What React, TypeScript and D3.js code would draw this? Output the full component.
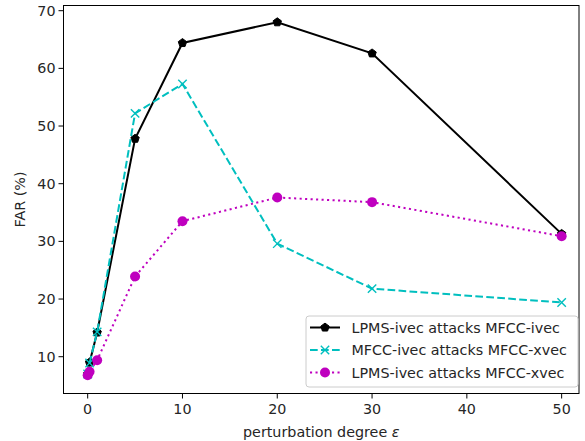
import React from "react";
import * as d3 from "d3";

const xValues = [0, 0.2, 1, 5, 10, 20, 30, 50];
const seriesNames = [
  "LPMS-ivec attacks MFCC-ivec",
  "MFCC-ivec attacks MFCC-xvec",
  "LPMS-ivec attacks MFCC-xvec",
];
const blackValues = [7.0, 9.0, 14.2, 47.8, 64.4, 68.0, 62.6, 31.3];
const cyanValues = [7.0, 8.9, 14.3, 52.2, 57.3, 29.6, 21.8, 19.4];
const pinkValues = [6.8, 7.4, 9.4, 23.9, 33.5, 37.6, 36.8, 30.9];
const xTicks = [0, 10, 20, 30, 40, 50];
const yTicks = [10, 20, 30, 40, 50, 60, 70];

const W = 585;
const H = 441;
const left = 63.5;
const right = 579;
const top = 5.5;
const bottom = 393.5;

const x = d3.scaleLinear().domain([-2.55, 51.83]).range([left, right]);
const y = d3.scaleLinear().domain([3.62, 70.9]).range([bottom, top]);

const FONT = "DejaVu Sans, sans-serif";
const FS = 14.3;
const TXT = "#262626";

const line = d3
  .line<[number, number]>()
  .x((d) => x(d[0]))
  .y((d) => y(d[1]));

function pts(vals: number[]): [number, number][] {
  return xValues.map((xv, i) => [xv, vals[i]]);
}

function pentagon(cx: number, cy: number, r: number) {
  const p: string[] = [];
  for (let i = 0; i < 5; i++) {
    const a = -Math.PI / 2 + (i * 2 * Math.PI) / 5;
    p.push(`${cx + r * Math.cos(a)},${cy + r * Math.sin(a)}`);
  }
  return p.join(" ");
}

const styles = [
  { color: "#000000", dash: undefined as string | undefined, marker: "p" },
  { color: "#00bfbf", dash: "7.7 3.3", marker: "x" },
  { color: "#bf00bf", dash: "2.1 3.4", marker: "o" },
];

function Marker({ kind, cx, cy, color }: { kind: string; cx: number; cy: number; color: string }) {
  if (kind === "p") return <polygon points={pentagon(cx, cy, 4.4)} fill={color} stroke={color} strokeWidth={1} />;
  if (kind === "x") {
    const s = 4.2;
    return (
      <g stroke={color} strokeWidth={1.4}>
        <line x1={cx - s} y1={cy - s} x2={cx + s} y2={cy + s} />
        <line x1={cx - s} y1={cy + s} x2={cx + s} y2={cy - s} />
      </g>
    );
  }
  return <circle cx={cx} cy={cy} r={5} fill={color} />;
}

export default function App() {
  const allSeries = [blackValues, cyanValues, pinkValues];
  const legendX = 306;
  const legendY = 316;
  const rowY = [327.5, 350, 372.5];
  return (
    <svg width={W} height={H} style={{ position: "absolute", left: 0, top: 0, background: "#fff" }} fontFamily={FONT}>
      <rect x={0} y={0} width={W} height={H} fill="#fff" />
      {allSeries.map((vals, si) => (
        <g key={si}>
          <path
            d={line(pts(vals)) || ""}
            fill="none"
            stroke={styles[si].color}
            strokeWidth={2}
            strokeDasharray={styles[si].dash}
          />
          {pts(vals).map((p, i) => (
            <Marker key={i} kind={styles[si].marker} cx={x(p[0])} cy={y(p[1])} color={styles[si].color} />
          ))}
        </g>
      ))}
      <rect x={left} y={top} width={right - left} height={bottom - top} fill="none" stroke="#000" strokeWidth={1} />
      {xTicks.map((t) => (
        <g key={t}>
          <line x1={x(t)} x2={x(t)} y1={bottom} y2={bottom + 5} stroke="#000" strokeWidth={1} />
          <text x={x(t)} y={bottom + 20} textAnchor="middle" fontSize={FS} fill={TXT}>
            {t}
          </text>
        </g>
      ))}
      {yTicks.map((t) => (
        <g key={t}>
          <line x1={left - 5} x2={left} y1={y(t)} y2={y(t)} stroke="#000" strokeWidth={1} />
          <text x={left - 8} y={y(t) + 5.1} textAnchor="end" fontSize={FS} fill={TXT}>
            {t}
          </text>
        </g>
      ))}
      <text x={(left + right) / 2} y={437} textAnchor="middle" fontSize={FS} fill={TXT}>
        perturbation degree <tspan fontStyle="italic">ε</tspan>
      </text>
      <text
        transform={`translate(25,${(top + bottom) / 2}) rotate(-90)`}
        textAnchor="middle"
        fontSize={FS}
        fill={TXT}
      >
        FAR (%)
      </text>
      <rect
        x={legendX}
        y={legendY}
        width={272}
        height={71}
        rx={3}
        fill="#fff"
        fillOpacity={0.8}
        stroke="#cccccc"
        strokeWidth={1}
      />
      {seriesNames.map((name, i) => (
        <g key={name}>
          <line
            x1={310}
            x2={340}
            y1={rowY[i]}
            y2={rowY[i]}
            stroke={styles[i].color}
            strokeWidth={2}
            strokeDasharray={styles[i].dash}
          />
          <Marker kind={styles[i].marker} cx={325} cy={rowY[i]} color={styles[i].color} />
          <text x={351.5} y={rowY[i] + 5.1} fontSize={FS} fill={TXT}>
            {name}
          </text>
        </g>
      ))}
    </svg>
  );
}
